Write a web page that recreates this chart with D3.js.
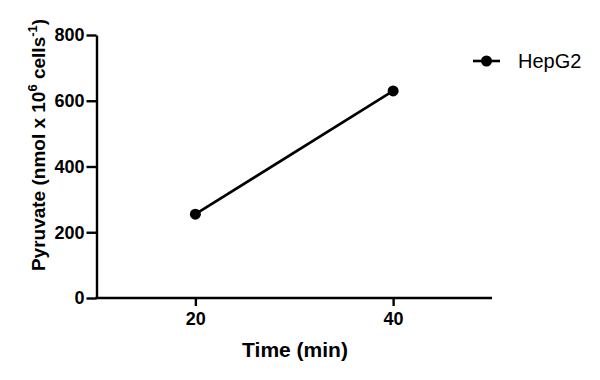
<!DOCTYPE html>
<html>
<head>
<meta charset="utf-8">
<script src="https://cdn.jsdelivr.net/npm/d3@7"></script>
<style>
  html, body { margin: 0; padding: 0; background: #fff; }
  svg { display: block; font-family: "Liberation Sans", Arial, Helvetica, sans-serif; }
</style>
</head>
<body>
<svg id="chart" width="600" height="380"></svg>
<script>
// Data
const times = [20, 40];
const pyruvate = [255, 630];
const seriesName = "HepG2";
const xTicks = [20, 40];
const yTicks = [0, 200, 400, 600, 800];

const svg = d3.select("#chart");

const x = d3.scaleLinear().domain([10, 50]).range([96.5, 492]);
const y = d3.scaleLinear().domain([0, 800]).range([298, 35]);

// Y axis
const yAxis = svg.append("g")
  .attr("transform", "translate(96.5,0)")
  .call(d3.axisLeft(y).tickValues(yTicks).tickSize(10).tickSizeOuter(0).tickPadding(2));
yAxis.select(".domain").attr("stroke", "#000").attr("stroke-width", 2.4);
yAxis.selectAll(".tick line").attr("stroke", "#000").attr("stroke-width", 2.4);
yAxis.selectAll(".tick text")
  .attr("font-size", 18).attr("font-weight", "bold").attr("fill", "#000")
  .attr("font-family", "Liberation Sans, Arial, sans-serif");

// X axis
const xAxis = svg.append("g")
  .attr("transform", "translate(0,298)")
  .call(d3.axisBottom(x).tickValues(xTicks).tickSize(8).tickSizeOuter(0).tickPadding(6));
xAxis.select(".domain").attr("stroke", "#000").attr("stroke-width", 2.4)
  .attr("d", `M95.5,0H${x.range()[1]}`);
xAxis.selectAll(".tick line").attr("stroke", "#000").attr("stroke-width", 2.4);
xAxis.selectAll(".tick text")
  .attr("font-size", 18).attr("font-weight", "bold").attr("fill", "#000")
  .attr("font-family", "Liberation Sans, Arial, sans-serif");

// Axis titles
svg.append("text")
  .attr("x", 295).attr("y", 357)
  .attr("text-anchor", "middle")
  .attr("font-size", 21).attr("font-weight", "bold")
  .text("Time (min)");

const yt = svg.append("text")
  .attr("transform", "translate(45,145) rotate(-90)")
  .attr("text-anchor", "middle")
  .attr("font-size", 19).attr("font-weight", "bold");
yt.append("tspan").text("Pyruvate (nmol x 10");
yt.append("tspan").attr("dy", -8).attr("font-size", 13).text("6");
yt.append("tspan").attr("dy", 8).text(" cells");
yt.append("tspan").attr("dy", -8).attr("font-size", 13).text("-1");
yt.append("tspan").attr("dy", 8).text(")");

// Line + markers
const pts = times.map((t, i) => ({t, v: pyruvate[i]}));
svg.append("path")
  .datum(pts)
  .attr("fill", "none").attr("stroke", "#000").attr("stroke-width", 2.6)
  .attr("d", d3.line().x(d => x(d.t)).y(d => y(d.v)));
svg.selectAll("circle.pt").data(pts).enter().append("circle")
  .attr("class", "pt")
  .attr("cx", d => x(d.t)).attr("cy", d => y(d.v)).attr("r", 5.5)
  .attr("fill", "#000");

// Legend
const lg = svg.append("g").attr("transform", "translate(0,61)");
lg.append("line").attr("x1", 473).attr("x2", 500).attr("y1", 0).attr("y2", 0)
  .attr("stroke", "#000").attr("stroke-width", 2.6);
lg.append("circle").attr("cx", 486.5).attr("cy", 0).attr("r", 5.5).attr("fill", "#000");
lg.append("text").attr("x", 518).attr("y", 7)
  .attr("font-size", 20).attr("fill", "#000")
  .text(seriesName);
</script>
</body>
</html>
